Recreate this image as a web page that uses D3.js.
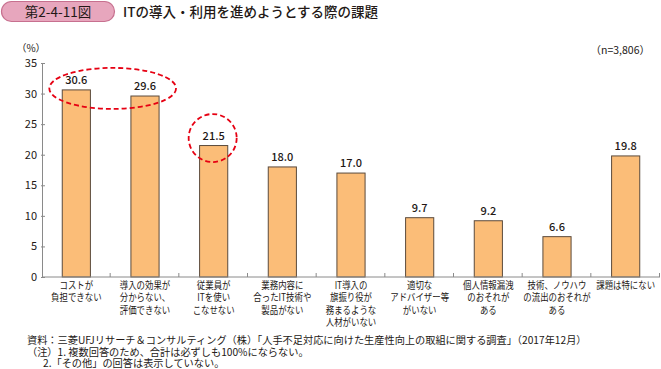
<!DOCTYPE html>
<html><head><meta charset="utf-8">
<script src="https://cdn.jsdelivr.net/npm/d3@7"></script>
<style>
body{margin:0;background:#fff;}
svg text{font-family:"Noto Sans CJK JP","Noto Sans",sans-serif;fill:#231815;}
</style></head>
<body><svg id="c" width="661" height="369"></svg>
<script>
const categories = [
  ["コストが","負担できない"],
  ["導入の効果が","分からない、","評価できない"],
  ["従業員が","ITを使い","こなせない"],
  ["業務内容に","合ったIT技術や","製品がない"],
  ["IT導入の","旗振り役が","務まるような","人材がいない"],
  ["適切な","アドバイザー等","がいない"],
  ["個人情報漏洩","のおそれが","ある"],
  ["技術、ノウハウ","の流出のおそれが","ある"],
  ["課題は特にない"]
];
const values = [30.6, 29.6, 21.5, 18.0, 17.0, 9.7, 9.2, 6.6, 19.8];
const yTicks = [0, 5, 10, 15, 20, 25, 30, 35];
const highlightGroups = [[0, 1], [2]];
const figNo = "第2-4-11図";
const title = "ITの導入・利用を進めようとする際の課題";
const unitLabel = "（%）";
const nLabel = "（n=3,806）";
const notes = [
  "資料：三菱UFJリサーチ＆コンサルティング（株）「人手不足対応に向けた生産性向上の取組に関する調査」（2017年12月）",
  "（注）1. 複数回答のため、合計は必ずしも100%にならない。",
  "2.「その他」の回答は表示していない。"
];

(function(){
const svg = d3.select("#c");
const mLeft = 42, mRight = 660, mTop = 63, mBottom = 277;
const x = d3.scaleBand().domain(d3.range(values.length)).range([mLeft, mRight]).paddingInner(0.59).paddingOuter(0.295);
const y = d3.scaleLinear().domain([0, 35]).range([mBottom, mTop]);

// Header pill
svg.append("rect").attr("x", 1.5).attr("y", 1.5).attr("width", 113).attr("height", 20).attr("rx", 10)
  .attr("fill", "#e7a6bd").attr("stroke", "#c7708f").attr("stroke-width", 1.2);
svg.append("text").attr("x", 58).attr("y", 16.8).attr("text-anchor", "middle").attr("font-size", 13.5).text(figNo);
svg.append("text").attr("x", 123).attr("y", 16.8).attr("font-size", 13.5).attr("font-weight", 500).text(title);

// Unit & n
svg.append("text").attr("x", 31).attr("y", 52).attr("text-anchor", "middle").attr("font-size", 10).text(unitLabel);
svg.append("text").attr("x", 650).attr("y", 54).attr("text-anchor", "end").attr("font-size", 10.5).text(nLabel);

// Y axis
const yAxis = d3.axisLeft(y).tickValues(yTicks).tickSize(0).tickPadding(5);
const ya = svg.append("g").attr("transform", `translate(${mLeft},0)`).call(yAxis);
ya.select(".domain").attr("stroke", "#8a8a8a");
ya.selectAll("text").attr("font-size", 11).attr("font-family", "\"Noto Sans\",sans-serif").attr("fill", "#231815");
ya.selectAll(".tick").append("line").attr("x1", -1).attr("x2", 3).attr("stroke", "#8a8a8a");

// Bars
svg.append("g").selectAll("rect").data(values).join("rect")
  .attr("x", (d, i) => x(i)).attr("y", d => y(d))
  .attr("width", x.bandwidth()).attr("height", d => y(0) - y(d))
  .attr("fill", "#fbbd78").attr("stroke", "#5b4a3c").attr("stroke-width", 1);

// Value labels
svg.append("g").selectAll("text").data(values).join("text")
  .attr("x", (d, i) => x(i) + x.bandwidth() / 2).attr("y", d => y(d) - 6)
  .attr("text-anchor", "middle").attr("font-size", 11).attr("font-weight", 500)
  .text(d => d.toFixed(1));

// X axis line + boundary ticks
svg.append("line").attr("x1", mLeft).attr("x2", mRight).attr("y1", mBottom).attr("y2", mBottom).attr("stroke", "#8a8a8a");
const step = x.step();
svg.append("g").selectAll("line").data(d3.range(1, values.length + 1)).join("line")
  .attr("x1", i => mLeft + i * step - 0.5).attr("x2", i => mLeft + i * step - 0.5)
  .attr("y1", mBottom).attr("y2", mBottom - 4).attr("stroke", "#8a8a8a");

// Category labels (condensed like the reference)
const cg = svg.append("g");
categories.forEach((lines, i) => {
  const cx = x(i) + x.bandwidth() / 2;
  lines.forEach((ln, j) => {
    cg.append("text").attr("text-anchor", "middle").attr("font-size", 9.8)
      .attr("transform", `translate(${cx},${289 + j * 12.3}) scale(0.86,1)`)
      .text(ln);
  });
});

// Highlight ellipses
highlightGroups.forEach(g => {
  const xs = g.map(i => x(i) + x.bandwidth() / 2);
  const cx = d3.mean(xs) + (g.length > 1 ? 2 : -1);
  const cy = y(d3.max(g, i => values[i])) - (g.length > 1 ? 1.5 : 7.5);
  const rx = g.length > 1 ? (xs[xs.length - 1] - xs[0]) / 2 + 29 : 24;
  const ry = g.length > 1 ? 20.5 : 24;
  svg.append("ellipse").attr("cx", cx).attr("cy", cy).attr("rx", rx).attr("ry", ry)
    .attr("fill", "none").attr("stroke", "#e60012").attr("stroke-width", 1.8).attr("stroke-dasharray", "5,3");
});

// Notes
const nx = [27, 27, 43], ny = [344, 355.5, 367];
notes.forEach((n, i) => {
  svg.append("text").attr("x", nx[i]).attr("y", ny[i]).attr("font-size", 10.2).text(n);
});
})();
</script></body></html>
